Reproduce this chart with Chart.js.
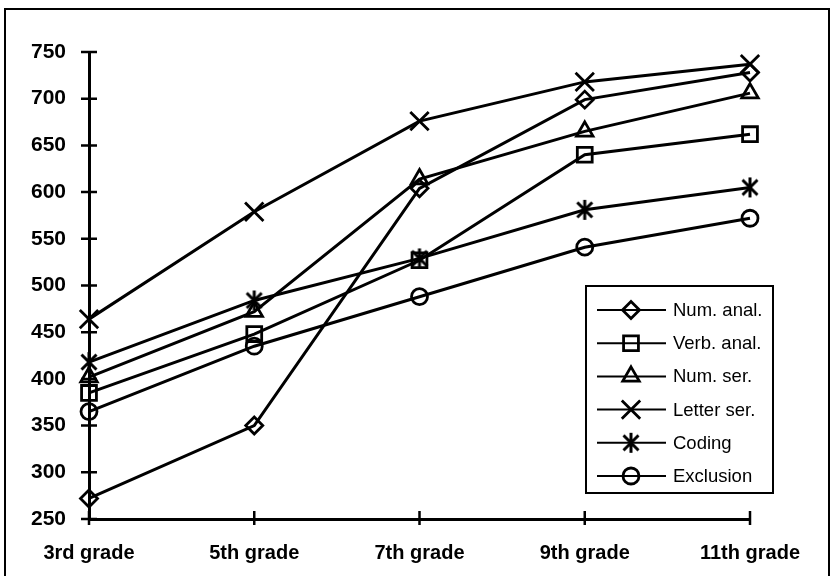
<!DOCTYPE html>
<html lang="en">
<head>
  <meta charset="UTF-8">
  <title>Scores by grade</title>
  <style>
    html, body { margin: 0; padding: 0; background: #fff; }
    canvas { display: block; }
  </style>
</head>
<body>
  <canvas id="grade-chart" width="836" height="576"></canvas>

  <script src="https://cdn.jsdelivr.net/npm/chart.js"></script>
  <script>
    const grades = ['3rd grade', '5th grade', '7th grade', '9th grade', '11th grade'];
    const seriesNames = ['Num. anal.', 'Verb. anal.', 'Num. ser.', 'Letter ser.', 'Coding', 'Exclusion'];
    const numAnal = [272, 350, 604, 699, 728];
    const verbAnal = [385, 448, 527, 640, 662];
    const numSer = [402, 472, 614, 665, 706];
    const letterSer = [464, 579, 676, 718, 737];
    const coding = [418, 484, 529, 581, 605];
    const exclusion = [365, 435, 488, 541, 572];
    const yMin = 250, yMax = 750, yStep = 50;

    const FONT = '"Liberation Sans", Arial, sans-serif';

    // excel style asterisk: vertical bar plus an X
    function asterisk() {
      const c = document.createElement('canvas');
      c.width = 24; c.height = 24;
      const g = c.getContext('2d');
      g.strokeStyle = '#000';
      g.lineWidth = 3;
      g.beginPath();
      g.moveTo(12, 2); g.lineTo(12, 22);
      g.moveTo(4.5, 4.5); g.lineTo(19.5, 19.5);
      g.moveTo(19.5, 4.5); g.lineTo(4.5, 19.5);
      g.stroke();
      return c;
    }

    const styles = [
      { pointStyle: 'rectRot', r: 8.5 },
      { pointStyle: 'rect', r: 10.5 },
      { pointStyle: 'triangle', r: 9.5 },
      { pointStyle: 'crossRot', r: 13 },
      { pointStyle: asterisk(), r: 10 },
      { pointStyle: 'circle', r: 8 }
    ];
    const values = [numAnal, verbAnal, numSer, letterSer, coding, exclusion];

    const datasets = seriesNames.map((name, i) => ({
      label: name,
      data: values[i],
      borderColor: '#000',
      borderWidth: 3,
      pointStyle: styles[i].pointStyle,
      pointRadius: styles[i].r,
      pointHoverRadius: styles[i].r,
      pointBorderWidth: 2.8,
      pointBorderColor: '#000',
      pointBackgroundColor: 'rgba(0,0,0,0)',
      tension: 0,
      clip: false
    }));

    // frame round the whole picture
    const framePlugin = {
      id: 'frame',
      beforeDraw(chart) {
        const ctx = chart.ctx;
        ctx.save();
        ctx.fillStyle = '#fff';
        ctx.fillRect(0, 0, chart.width, chart.height);
        ctx.strokeStyle = '#000';
        ctx.lineWidth = 2;
        ctx.strokeRect(5, 9, 824, 600);
        ctx.restore();
      }
    };

    // tick marks crossing both axes
    const tickPlugin = {
      id: 'crossTicks',
      afterDraw(chart) {
        const ctx = chart.ctx;
        const x = chart.scales.x, y = chart.scales.y;
        ctx.save();
        ctx.strokeStyle = '#000';
        ctx.lineWidth = 2.5;
        ctx.beginPath();
        y.ticks.forEach((t, i) => {
          const py = y.getPixelForTick(i);
          ctx.moveTo(x.left - 8, py); ctx.lineTo(x.left + 8, py);
        });
        x.ticks.forEach((t, i) => {
          const px = x.getPixelForTick(i);
          ctx.moveTo(px, y.bottom - 8); ctx.lineTo(px, y.bottom + 6);
        });
        ctx.stroke();
        ctx.restore();
      }
    };

    const legendPlugin = {
      id: 'boxLegend',
      afterDatasetsDraw(chart) {
        const ctx = chart.ctx;
        const box = { x: 586, y: 286, w: 187, h: 207 };
        ctx.save();
        ctx.fillStyle = '#fff';
        ctx.fillRect(box.x, box.y, box.w, box.h);
        ctx.strokeStyle = '#000';
        ctx.lineWidth = 2;
        ctx.strokeRect(box.x, box.y, box.w, box.h);
        ctx.font = '18.5px ' + FONT;
        ctx.textBaseline = 'middle';
        ctx.textAlign = 'left';
        chart.data.datasets.forEach((ds, i) => {
          const cy = box.y + 24 + i * 33.2;
          ctx.strokeStyle = '#000';
          ctx.lineWidth = 2;
          ctx.beginPath();
          ctx.moveTo(597, cy); ctx.lineTo(666, cy);
          ctx.stroke();
          ctx.lineWidth = 2.8;
          ctx.fillStyle = 'rgba(0,0,0,0)';
          Chart.helpers.drawPoint(ctx, {
            pointStyle: ds.pointStyle,
            radius: ds.pointRadius,
            rotation: 0,
            borderWidth: 2.8
          }, 631, cy);
          ctx.fillStyle = '#000';
          ctx.fillText(ds.label, 673, cy + 1);
        });
        ctx.restore();
      }
    };

    new Chart(document.getElementById('grade-chart'), {
      type: 'line',
      data: { labels: grades, datasets },
      options: {
        responsive: false,
        devicePixelRatio: 1,
        animation: false,
        events: [],
        layout: { padding: { top: 52, right: 86, left: 0, bottom: 0 } },
        plugins: { legend: { display: false }, tooltip: { enabled: false } },
        scales: {
          x: {
            type: 'category',
            offset: false,
            grid: { display: false, drawTicks: false },
            border: { display: true, color: '#000', width: 3 },
            ticks: {
              color: '#000',
              padding: 22,
              maxRotation: 0,
              autoSkip: false,
              font: { family: FONT, size: 20, weight: 'bold' }
            },
            afterFit(scale) { scale.height = 57; }
          },
          y: {
            min: yMin,
            max: yMax,
            grid: { display: false, drawTicks: false },
            border: { display: true, color: '#000', width: 3 },
            ticks: {
              stepSize: yStep,
              color: '#000',
              padding: 23,
              font: { family: FONT, size: 21, weight: 'bold' }
            },
            afterFit(scale) { scale.width = 89; }
          }
        }
      },
      plugins: [framePlugin, tickPlugin, legendPlugin]
    });
  </script>
</body>
</html>
